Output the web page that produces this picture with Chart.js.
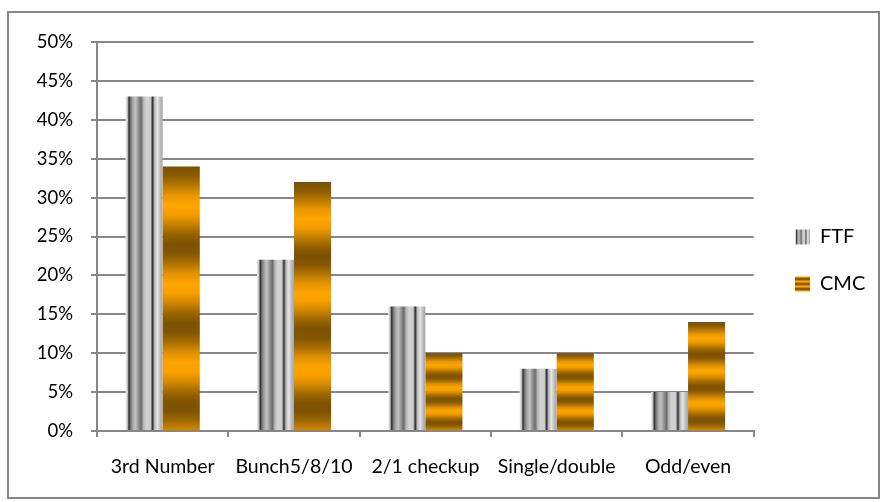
<!DOCTYPE html>
<html>
<head>
<meta charset="utf-8">
<script src="https://cdn.jsdelivr.net/npm/chart.js@4.4.1/dist/chart.umd.min.js"></script>
<style>
  html, body { margin: 0; padding: 0; background: #ffffff; }
  #wrap { width: 883px; height: 502px; position: relative; }
</style>
</head>
<body>
<div id="wrap"><canvas id="chart" width="883" height="502"></canvas></div>
<script>
// Categories and series values (percent)
const categories = ['3rd Number', 'Bunch5/8/10', '2/1 checkup', 'Single/double', 'Odd/even'];
const ftfValues = [43, 22, 16, 8, 5];
const cmcValues = [34, 32, 10, 10, 14];
const seriesNames = ['FTF', 'CMC'];
const yTickMin = 0;
const yTickMax = 50;
const yTickStep = 5;

const FONT = 'Lato, "Noto Sans", "DejaVu Sans", sans-serif';
const GRID = '#878787';

// Metallic grey stripes running across the width of FTF bars
const ftfStops = [
  [0.00, '#efefef'], [0.05, '#c6c6c6'], [0.09, '#2e2e2e'], [0.13, '#6e6e6e'],
  [0.20, '#a9a9a9'], [0.27, '#c2c2c2'], [0.36, '#8c8c8c'], [0.42, '#6c6c6c'],
  [0.48, '#b2b2b2'], [0.55, '#d2d2d2'], [0.67, '#cecece'], [0.73, '#2c2c2c'],
  [0.78, '#b8b8b8'], [0.86, '#e6e6e6'], [0.93, '#bcbcbc'], [1.00, '#a6a6a6']
];

// Brown / orange bands running down CMC bars
const cmcDark = [122, 80, 0];
const cmcLight = [255, 166, 0];

function rgb(c) { return 'rgb(' + c.map(Math.round).join(',') + ')'; }
function mix(a, b, t) { return a.map((v, i) => v + (b[i] - v) * t); }

function ftfGradient(ctx, x0, x1) {
  const g = ctx.createLinearGradient(x0, 0, x1, 0);
  ftfStops.forEach(([o, c]) => g.addColorStop(o, c));
  return g;
}

// halfCycles: number of dark->light transitions along the height
function cmcGradient(ctx, y0, y1, halfCycles, startLight) {
  const g = ctx.createLinearGradient(0, y0, 0, y1);
  const steps = Math.ceil(halfCycles * 4);
  for (let i = 0; i <= steps; i++) {
    const t = Math.min(i / steps, 1);
    const phase = t * halfCycles * Math.PI;
    let w = (1 - Math.cos(phase)) / 2;        // 0 at start, 1 after one half cycle
    if (startLight) w = 1 - w;
    g.addColorStop(t, rgb(mix(cmcDark, cmcLight, w)));
  }
  return g;
}

const framePlugin = {
  id: 'frame',
  beforeDraw(chart) {
    const ctx = chart.ctx;
    ctx.save();
    ctx.fillStyle = '#ffffff';
    ctx.fillRect(0, 0, chart.width, chart.height);
    ctx.strokeStyle = '#868686';
    ctx.lineWidth = 2;
    ctx.strokeRect(8, 12, 871, 486);
    ctx.restore();
  }
};

// Place the legend column beside the plot and give its boxes the bar fills
const legendPlacement = {
  id: 'legendPlacement',
  afterLayout(chart) {
    const lg = chart.legend;
    if (!lg) return;
    const pad = lg.options.labels.padding;
    const itemH = lg.options.labels.font.size;
    lg.left = 768;
    lg.right = chart.width;
    lg.top = 227 - pad;
    lg.bottom = 227 + seriesNames.length * (itemH + pad);
  },
  beforeDraw(chart) {
    const lg = chart.legend;
    if (!lg || !lg.legendItems) return;
    const ctx = chart.ctx;
    const lab = lg.options.labels;
    const off = Math.max((lab.font.size - lab.boxHeight) / 2, 0);
    lg.legendItems.forEach((item, i) => {
      const hb = lg.legendHitBoxes[i];
      if (!hb) return;
      const x = hb.left, y = hb.top + off;
      item.fillStyle = i === 0
        ? ftfGradient(ctx, x, x + lab.boxWidth)
        : cmcGradient(ctx, y, y + lab.boxHeight, 6, true);
      item.lineWidth = 0;
      item.strokeStyle = 'rgba(0,0,0,0)';
    });
  }
};

// Fill each bar with its gradient, sized to the bar's own geometry
const barFill = {
  id: 'barFill',
  beforeDatasetsDraw(chart) {
    const ctx = chart.ctx;
    chart.data.datasets.forEach((ds, di) => {
      const meta = chart.getDatasetMeta(di);
      meta.data.forEach((el) => {
        const left = el.x - el.width / 2;
        const right = el.x + el.width / 2;
        const top = Math.min(el.y, el.base);
        const bottom = Math.max(el.y, el.base);
        el.options.backgroundColor = di === 0
          ? ftfGradient(ctx, left, right)
          : cmcGradient(ctx, top, bottom, 6.6, false);
      });
    });
  }
};

new Chart(document.getElementById('chart'), {
  type: 'bar',
  data: {
    labels: categories,
    datasets: [
      { label: seriesNames[0], data: ftfValues, backgroundColor: () => '#bbbbbb', borderWidth: 0 },
      { label: seriesNames[1], data: cmcValues, backgroundColor: () => '#d08a00', borderWidth: 0 }
    ]
  },
  options: {
    responsive: false,
    animation: false,
    devicePixelRatio: 1,
    datasets: { bar: { barPercentage: 1, categoryPercentage: 0.565 } },
    layout: { padding: { left: 0, top: 42, right: 22, bottom: 0 } },
    plugins: {
      legend: {
        position: 'right',
        labels: {
          boxWidth: 15,
          boxHeight: 15,
          padding: 27,
          color: '#000000',
          font: { family: FONT, size: 20 }
        }
      },
      tooltip: { enabled: false }
    },
    scales: {
      x: {
        offset: true,
        grid: { offset: true, drawOnChartArea: false, drawTicks: true, tickLength: 6, color: GRID, lineWidth: 2 },
        border: { color: GRID, width: 2 },
        ticks: { color: '#000000', font: { family: FONT, size: 19.5 }, padding: 18, maxRotation: 0, autoSkip: false },
        afterFit(s) { s.height = 71; }
      },
      y: {
        min: yTickMin,
        max: yTickMax,
        grid: { color: GRID, lineWidth: 2, tickLength: 6 },
        border: { color: GRID, width: 2 },
        ticks: {
          stepSize: yTickStep,
          color: '#000000',
          font: { family: FONT, size: 18.5 },
          padding: 18,
          callback: (v) => v + '%'
        },
        afterFit(s) { s.width = 97; }
      }
    }
  },
  plugins: [framePlugin, legendPlacement, barFill]
});
</script>
</body>
</html>
